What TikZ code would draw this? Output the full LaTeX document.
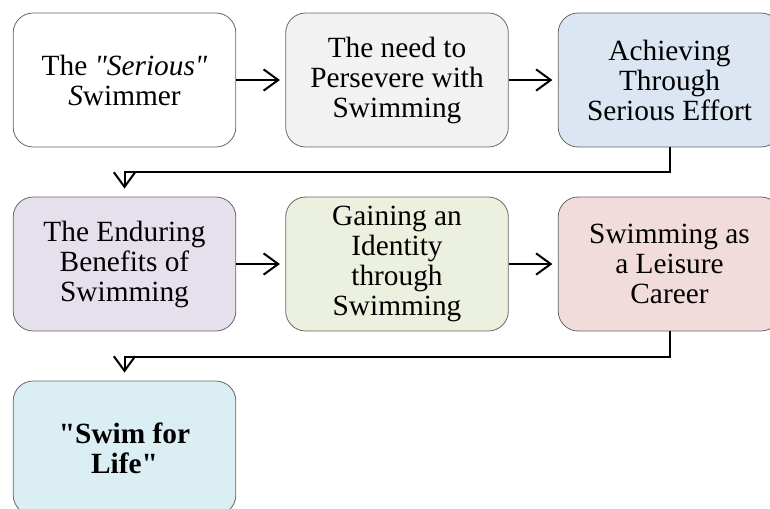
\documentclass[tikz,border=0pt]{standalone}
\usepackage{fontspec}
\setmainfont{Liberation Serif}[Ligatures=TeXOff]
\usetikzlibrary{arrows.meta}

\definecolor{grayfill}{HTML}{F2F2F2}
\definecolor{bluefill}{HTML}{DCE6F2}
\definecolor{purplefill}{HTML}{E5E0EC}
\definecolor{greenfill}{HTML}{EBF1DE}
\definecolor{redfill}{HTML}{F2DCDB}
\definecolor{aquafill}{HTML}{DBEEF4}

\begin{document}
\begin{tikzpicture}[x=0.75pt,y=-0.75pt,font=\fontsize{22}{22.5}\selectfont]
\tikzstyle{stage}=[draw=black!60,line width=0.6pt,rounded corners=15pt,minimum width=167pt,minimum height=100.5pt,align=center,inner sep=0pt]
\tikzstyle{flow}=[-{Straight Barb[length=11pt,width=16pt]},line width=1.5pt]
\useasboundingbox (0,0) rectangle (770,508);
% first row
\node[stage,fill=white] (serious) at (124.5,80) {The \textit{"Serious"}\\\textit{S}wimmer};
\node[stage,fill=grayfill] (persevere) at (397,80) {The need to\\Persevere with\\Swimming};
\node[stage,fill=bluefill] (effort) at (669.5,80) {Achieving\\Through\\Serious Effort};
% second row
\node[stage,fill=purplefill] (benefits) at (124.5,264) {The Enduring\\Benefits of\\Swimming};
\node[stage,fill=greenfill] (identity) at (397,264) {Gaining an\\Identity\\through\\Swimming};
\node[stage,fill=redfill] (career) at (669.5,264) {Swimming as\\a Leisure\\Career};
% last row
\node[stage,fill=aquafill] (swimlife) at (124.5,448) {\textbf{"Swim for}\\\textbf{Life"}};
\draw[flow,shorten >=4pt] (serious) -- (persevere);
\draw[flow,shorten >=4pt] (persevere) -- (effort);
\draw[flow,shorten >=6pt] (effort.south) -- ++(0,25) -| (benefits.north);
\draw[flow,shorten >=4pt] (benefits) -- (identity);
\draw[flow,shorten >=4pt] (identity) -- (career);
\draw[flow,shorten >=6pt] (career.south) -- ++(0,26) -| (swimlife.north);
\end{tikzpicture}
\end{document}
